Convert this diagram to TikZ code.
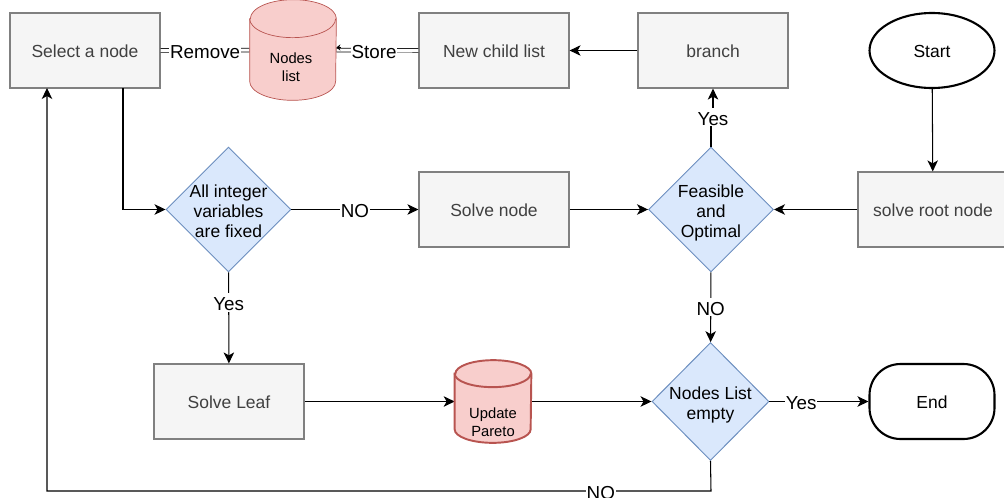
\documentclass[tikz,border=0pt]{standalone}
\usepackage{fontspec}
\setmainfont{Liberation Sans}
\usetikzlibrary{arrows.meta,shapes.geometric}
\definecolor{boxfill}{HTML}{F5F5F5}
\definecolor{boxline}{HTML}{808080}
\definecolor{boxtext}{HTML}{404040}
\definecolor{askfill}{HTML}{DAE8FC}
\definecolor{askline}{HTML}{6C8EBF}
\definecolor{drumfill}{HTML}{F8CECC}
\definecolor{drumline}{HTML}{B85450}
\tikzset{
  process/.style={draw=boxline,fill=boxfill,line width=0.7pt,minimum width=3cm,minimum height=1.5cm,text=boxtext,text height=9pt,text depth=1pt,font=\fontsize{9.95}{11.4}\selectfont},
  decision/.style={diamond,draw=askline,fill=askfill,line width=0.55pt,inner sep=0pt,minimum width=2.5cm,minimum height=2.5cm},
  inside/.style={align=center,yshift=-0.07cm,font=\fontsize{9.95}{11.4}\selectfont},
  storetext/.style={align=center,font=\fontsize{8.4}{10.2}\selectfont},
  drum/.style={draw=drumline,fill=drumfill},
  terminal/.style={draw=black,line width=1.2pt,fill=white,minimum width=2.5cm,minimum height=1.5cm,text height=9pt,text depth=1pt,font=\fontsize{9.95}{11.4}\selectfont},
  flow/.style={draw=black,line width=0.6pt,-{Stealth[length=2.2mm,width=2.1mm,inset=0.6mm]}},
  twin/.style={draw=black,line width=0.4pt,double,double distance=0.06cm},
  tag/.style={fill=white,inner sep=0.5pt,text height=9.4pt,text depth=0pt,font=\fontsize{10.7}{11.4}\selectfont},
}
% #1 node, #2 half width, #3 half height of the ellipse
\newcommand{\drumat}[3]{
  \draw[drum] ([yshift=-#3]#1.north west) -- ([yshift=#3]#1.south west)
    arc[start angle=180,end angle=360,x radius=#2,y radius=#3]
    -- ([yshift=-#3]#1.north east)
    arc[start angle=0,end angle=180,x radius=#2,y radius=#3] -- cycle;
  \draw[drum,fill=none] ([yshift=-#3]#1.north west)
    arc[start angle=180,end angle=360,x radius=#2,y radius=#3];
}
\begin{document}
\begin{tikzpicture}[x=0.02cm,y=-0.02cm]
            \useasboundingbox (0,0) rectangle (1004,497);
            \node[process] (select) at (85,50.5) {Select a node};
            \node[process] (child) at (494,50.5) {New child list};
            \node[process] (branch) at (713,50.5) {branch};
            \node[process] (root) at (933,209.5) {solve root node};
            \node[process] (solve) at (494,209.5) {Solve node};
            \node[process] (leaf) at (229,401.5) {Solve Leaf};
            \node[terminal,ellipse,inner sep=0pt] (start) at (932,50.5) {Start};
            \node[terminal,rounded corners=0.62cm] (end) at (932,401.5) {End};
            \node[decision,label={[inside]center:All integer\\variables\\are fixed\vphantom{p}}] (fixed) at (228.5,209.5) {};
            \node[decision,label={[inside]center:Feasible\\and\\Optimal}] (feasible) at (711,209.5) {};
            \node[decision,minimum width=2.34cm,minimum height=2.36cm,label={[inside]center:Nodes List\\empty}] (empty) at (710.5,401.5) {};
            \node[minimum width=1.72cm,minimum height=2cm,inner sep=0pt] (list) at (293,50) {};
            \node[minimum width=1.52cm,minimum height=1.64cm,inner sep=0pt] (pareto) at (493,401.5) {};
            \coordinate (yesbend) at (713,117);
            \coordinate (nobendright) at (711,491);
            \coordinate (nobendleft) at (47,491);
            \coordinate (selectin) at (47,88);
            \coordinate (selectout) at (123,88);
            \coordinate (storetip) at (341,47.5);
            \draw[twin] (select) -- node[tag] {Remove} (list);
            \draw[twin] (child) -- node[tag,pos=0.54] {Store} (list);
            \draw[-{Stealth[length=0.8mm,width=1.2mm]},line width=0.6pt] (storetip) -- (list.east |- storetip);
            \draw[flow] (branch) -- (child);
            \draw[flow] (start) -- (root);
            \draw[flow] (root) -- (feasible);
            \draw[flow] (solve) -- (feasible);
            \draw[flow] (selectout) |- (fixed);
            \draw[flow] (fixed) -- node[tag] {NO} (solve);
            \draw[flow] (fixed) -- node[tag,pos=0.33] {Yes} (leaf);
            \draw[flow] (feasible) -- node[tag,pos=0.5] {NO} (empty);
            \draw[flow] (feasible.north) |- (yesbend) -- (branch.south);
            \node[tag] (yes) at (yesbend) {Yes};
            \draw[flow] (leaf) -- (pareto);
            \draw[flow] (pareto) -- (empty);
            \draw[flow] (empty) -- node[tag,pos=0.32] {Yes} (end);
            \draw[flow] (empty.south) -- (nobendright) -- node[tag,pos=0.166] {NO} (nobendleft) -- (selectin);
            \drumat{list}{0.86cm}{0.38cm}
            \node[storetext] (listtext) at (291,67) {Nodes\\list};
            \begin{scope}[line width=1.1pt]
            \drumat{pareto}{0.76cm}{0.27cm}
            \end{scope}
            \node[storetext] (paretotext) at (493,422) {Update\\Pareto};
            \end{tikzpicture}
\end{document}
